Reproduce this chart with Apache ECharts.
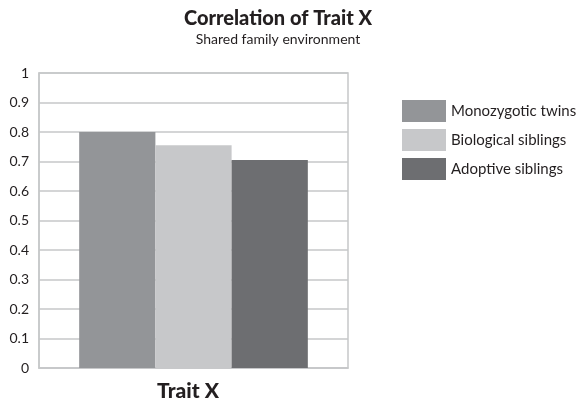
<!DOCTYPE html>
<html><head><meta charset="utf-8">
<script src="https://cdn.jsdelivr.net/npm/echarts@6/dist/echarts.min.js"></script>
<style>html,body{margin:0;padding:0;background:#fff}#c{width:582px;height:406px}</style>
</head><body><div id="c"></div>
<script>
const categories = ['Trait X'];
const seriesNames = ['Monozygotic twins', 'Biological siblings', 'Adoptive siblings'];
const monozygotic = [0.80];
const biological = [0.755];
const adoptive = [0.705];
const yTicks = [0, 0.1, 0.2, 0.3, 0.4, 0.5, 0.6, 0.7, 0.8, 0.9, 1];

const FONT = 'Lato';
const colors = ['#939598', '#c7c8ca', '#6d6e71'];
const values = [monozygotic, biological, adoptive];

const chart = echarts.init(document.getElementById('c'), null, {renderer: 'canvas'});
chart.setOption({
  animation: false,
  textStyle: {fontFamily: FONT, color: '#231f20'},
  title: {
    text: 'Correlation of Trait X',
    subtext: 'Shared family environment',
    left: 273, textAlign: 'center', top: 4,
    itemGap: 3,
    textStyle: {fontFamily: FONT, fontWeight: 900, fontSize: 20, color: '#231f20'},
    subtextStyle: {fontFamily: FONT, fontSize: 14, color: '#231f20'}
  },
  legend: {
    orient: 'vertical', left: 402, top: 100, padding: 0,
    itemWidth: 44, itemHeight: 22, itemGap: 7,
    icon: 'rect',
    data: seriesNames,
    textStyle: {fontFamily: FONT, fontSize: 15, color: '#231f20'}
  },
  grid: {left: 39, right: 234, top: 73, bottom: 38, show: true, borderColor: '#c6c7c9', borderWidth: 1.5},
  xAxis: {
    type: 'category', data: categories,
    axisLine: {show: true, lineStyle: {color: '#c6c7c9', width: 1.5}},
    axisTick: {show: false},
    axisLabel: {fontFamily: FONT, fontWeight: 900, fontSize: 21, color: '#231f20', margin: 13, padding: [0, 11, 0, 0]}
  },
  yAxis: {
    type: 'value', min: 0, max: 1, interval: 0.1,
    axisLine: {show: true, lineStyle: {color: '#c6c7c9', width: 1.5}},
    axisTick: {show: false},
    splitLine: {lineStyle: {color: '#c6c7c9', width: 1.5}},
    axisLabel: {fontFamily: FONT, fontSize: 14, color: '#231f20', margin: 10,
      formatter: v => { const t = yTicks.find(x => Math.abs(x - v) < 1e-9); return t === undefined ? '' : String(t); }}
  },
  series: seriesNames.map((n, i) => ({
    name: n, type: 'bar', data: values[i],
    barGap: '0%', barCategoryGap: '26%',
    itemStyle: {color: colors[i]}
  }))
});
</script></body></html>
